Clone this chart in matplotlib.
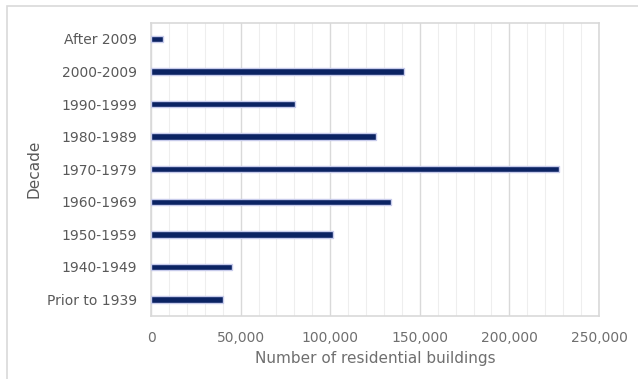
import matplotlib
matplotlib.use("Agg")
import matplotlib.pyplot as plt
from matplotlib.patches import Rectangle
from matplotlib.ticker import MultipleLocator, FuncFormatter

decades = ["Prior to 1939", "1940-1949", "1950-1959", "1960-1969", "1970-1979",
           "1980-1989", "1990-1999", "2000-2009", "After 2009"]
buildings = [40300, 45000, 101400, 134100, 227700, 125600, 80200, 141000, 6500]

plt.rcParams['font.family'] = ['DejaVu Sans']
text_color = "#595959"

fig = plt.figure(figsize=(6.38, 3.79), dpi=100)
ax = fig.add_axes([151/638, 1-315.7/379, (599-151)/638, (315.7-22.7)/379])

# outer frame (top and left visible)
fig.patches.append(Rectangle((6.5/638, -0.1), 1.2, (1-6.5/379)+0.1, transform=fig.transFigure,
                             fill=False, edgecolor="#d9d9d9", linewidth=1.2))

ax.barh(range(len(decades)), buildings, height=0.2, color="#0b2363",
        edgecolor="#c7cbeb", linewidth=1.0, zorder=3)

ax.set_xlim(0, 250000)
ax.set_ylim(-0.5, len(decades)-0.5)
ax.set_yticks(range(len(decades)))
ax.set_yticklabels(decades)
ax.xaxis.set_major_locator(MultipleLocator(50000))
ax.xaxis.set_minor_locator(MultipleLocator(10000))
ax.xaxis.set_major_formatter(FuncFormatter(lambda v, p: f"{int(v):,}"))
ax.grid(axis="x", which="major", color="#d9d9d9", linewidth=1.0, zorder=0)
ax.grid(axis="x", which="minor", color="#eeeeee", linewidth=0.8, zorder=0)
ax.tick_params(axis="both", which="both", length=0, colors=text_color, labelsize=10)
ax.tick_params(axis="x", pad=11, labelcolor="#6f6f6f")
ax.tick_params(axis="y", pad=10)
for s in ax.spines.values():
    s.set_color("#d9d9d9")
    s.set_linewidth(1.2)

ax.set_xlabel("Number of residential buildings", color="#6f6f6f", fontsize=11, labelpad=4)
ax.set_ylabel("Decade", color=text_color, fontsize=11, labelpad=4)

fig.savefig("out.png", dpi=100)
